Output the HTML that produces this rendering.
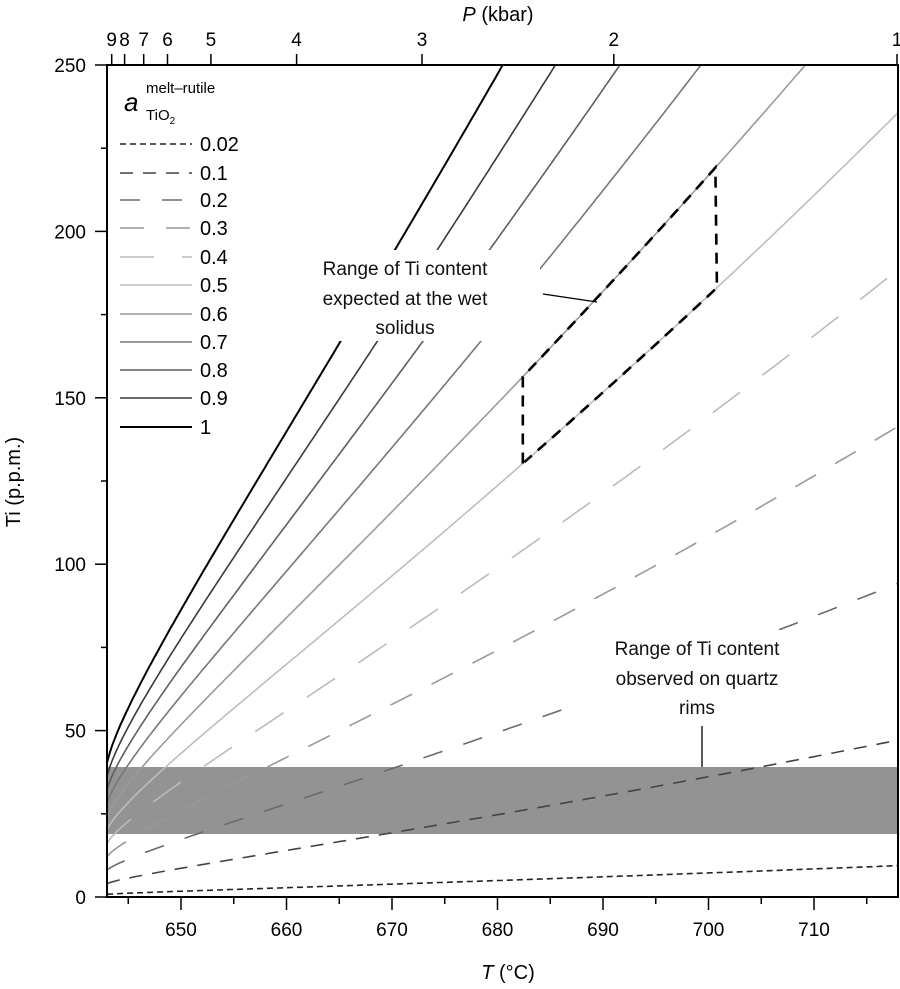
<!DOCTYPE html>
<html><head><meta charset="utf-8">
<style>
html,body{margin:0;padding:0;background:#fff;}
svg{display:block;font-family:"Liberation Sans",Arial,sans-serif;}
</style></head>
<body>
<svg id="s" width="900" height="989" viewBox="0 0 900 989" xmlns="http://www.w3.org/2000/svg">
<defs><clipPath id="c"><rect x="107" y="65" width="791" height="832"/></clipPath></defs>
<rect x="107" y="767" width="791" height="67" fill="#939393"/>
<g id="curves" clip-path="url(#c)" fill="none"></g>
<rect x="286" y="250" width="254" height="91" fill="#fff"/>
<rect x="580" y="630" width="222" height="92" fill="#fff"/>
<g id="poly" fill="none" stroke="#000" stroke-width="2.6" stroke-dasharray="11,8"></g>
<rect x="107" y="65" width="791" height="832" fill="none" stroke="#000" stroke-width="2"/>
<g id="ticks" stroke="#000" stroke-width="1.5"></g>
<g id="labels" font-size="19" fill="#000"></g>
<g font-size="19" text-anchor="middle" fill="#111">
<text x="405" y="275">Range of Ti content</text>
<text x="405" y="305">expected at the wet</text>
<text x="405" y="334">solidus</text>
<text x="697" y="655">Range of Ti content</text>
<text x="697" y="685">observed on quartz</text>
<text x="697" y="714">rims</text>
</g>
<line x1="543" y1="294" x2="597" y2="302" stroke="#000" stroke-width="1.3"/>
<line x1="702" y1="726" x2="702" y2="767" stroke="#000" stroke-width="1.3"/>
<g id="legend"></g>
<text x="124" y="111" font-size="26" font-style="italic">a</text>
<text x="146" y="93" font-size="15">melt–rutile</text>
<text x="146" y="120" font-size="15">TiO<tspan font-size="10" dy="4">2</tspan></text>
<text x="508" y="979" font-size="20" text-anchor="middle"><tspan font-style="italic">T</tspan> (°C)</text>
<text x="498" y="21" font-size="20" text-anchor="middle"><tspan font-style="italic">P</tspan> (kbar)</text>
<text transform="translate(20,482) rotate(-90)" font-size="20" text-anchor="middle">Ti (p.p.m.)</text>
</svg>
<script>
var NS="http://www.w3.org/2000/svg";
function el(t,a,p){var e=document.createElementNS(NS,t);for(var k in a)e.setAttribute(k,a[k]);if(p)p.appendChild(e);return e;}
var X=function(T){return 181+(T-650)*10.55;};
var Y=function(v){return 897-v*3.328;};
function f(T){var d=Math.max(0,T-643);return 40.5+3.887*d+7.85*(Math.sqrt(d+0.15)-Math.sqrt(0.15))+0.01325*d*d;}
var series=[
[0.02,"#222","6,4"],[0.1,"#444","13,10"],[0.2,"#6a6a6a","20,22"],[0.3,"#999","24,22"],[0.4,"#bbb","34,28"],
[0.5,"#bdbdbd",""],[0.6,"#9a9a9a",""],[0.7,"#777",""],[0.8,"#5e5e5e",""],[0.9,"#3a3a3a",""],[1,"#000",""]];
var cg=document.getElementById("curves");
series.forEach(function(s){
 var p="";for(var T=643;T<=718.01;T+=0.25){p+=(p?"L":"M")+X(T).toFixed(1)+","+Y(s[0]*f(T)).toFixed(1);}
 var a={d:p,stroke:s[1],"stroke-width":s[0]==1?2:1.6};if(s[2])a["stroke-dasharray"]=s[2];el("path",a,cg);
});
var pg=document.getElementById("poly"),T1=682.4,T2=700.8,p="M"+X(T1)+","+Y(0.5*f(T1));
p+="L"+X(T1)+","+Y(0.6*f(T1));
for(var T=T1;T<=T2;T+=0.25)p+="L"+X(T)+","+Y(0.6*f(T));
p+="L"+X(T2)+","+Y(0.5*f(T2));
for(T=T2;T>=T1;T-=0.25)p+="L"+X(T)+","+Y(0.5*f(T));
el("path",{d:p},pg);
var tg=document.getElementById("ticks"),lg=document.getElementById("labels");
for(var v=0;v<=250;v+=25){var y=Y(v),maj=v%50==0;el("line",{x1:107,x2:maj?95:101,y1:y,y2:y},tg);
 if(maj){var t=el("text",{x:86,y:y+7,"text-anchor":"end"},lg);t.textContent=v;}}
for(T=645;T<=715;T+=5){var x=X(T),maj=T%10==0;el("line",{x1:x,x2:x,y1:897,y2:maj?910:904},tg);
 if(maj){var t=el("text",{x:x,y:936,"text-anchor":"middle"},lg);t.textContent=T;}}
var P=[[9,111.7],[8,124.6],[7,143.7],[6,167.5],[5,210.9],[4,296.6],[3,422],[2,613.8],[1,897]];
P.forEach(function(q){el("line",{x1:q[1],x2:q[1],y1:65,y2:54},tg);var t=el("text",{x:q[1],y:46,"text-anchor":"middle"},lg);t.textContent=q[0];});
var L=document.getElementById("legend");
var ys=[144,173,200,228,257,285,314,342,370,398,427];
series.forEach(function(s,i){var a={x1:120,x2:192,y1:ys[i],y2:ys[i],stroke:s[1],"stroke-width":s[0]==1?2:1.6};
 if(s[2])a["stroke-dasharray"]=s[2];el("line",a,L);
 var t=el("text",{x:200,y:ys[i]+7,"font-size":20},L);t.textContent=s[0];});
</script>
</body></html>
